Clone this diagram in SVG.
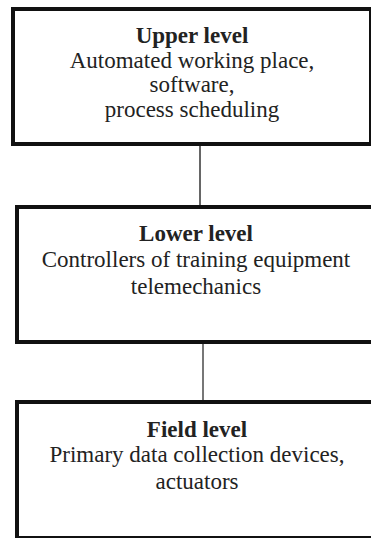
<svg xmlns="http://www.w3.org/2000/svg" width="371" height="538" viewBox="0 0 371 538">
<style>
.box{fill:#fff;stroke:#111;stroke-width:4}
.t{font-family:'Liberation Serif','Times New Roman',Tinos,'DejaVu Serif',serif;font-size:23px;fill:#222;text-anchor:middle}
.b{font-weight:bold}
.c{fill:none}
</style>
<rect x="0" y="0" width="371" height="538" fill="#fff"/>
<g id="connectors">
<line class="c" x1="200" y1="146" x2="200" y2="205" stroke="#333" stroke-width="1.5"/>
<line class="c" x1="203" y1="344" x2="203" y2="400" stroke="#777" stroke-width="2"/>
</g>
<g id="upper">
<rect class="box" x="13" y="9" width="358" height="135"/>
<text class="t b" x="192" y="43">Upper level</text>
<text class="t" x="192" y="68">Automated working place,</text>
<text class="t" x="192" y="92">software,</text>
<text class="t" x="192" y="117">process scheduling</text>
</g>
<g id="lower">
<rect class="box" x="17" y="207" width="360" height="135"/>
<text class="t b" x="196" y="241">Lower level</text>
<text class="t" x="196" y="267">Controllers of training equipment</text>
<text class="t" x="196" y="294">telemechanics</text>
</g>
<g id="field">
<rect class="box" x="17" y="402" width="360" height="136"/>
<text class="t b" x="197" y="437">Field level</text>
<text class="t" x="197" y="462">Primary data collection devices,</text>
<text class="t" x="197" y="489">actuators</text>
</g>
</svg>
